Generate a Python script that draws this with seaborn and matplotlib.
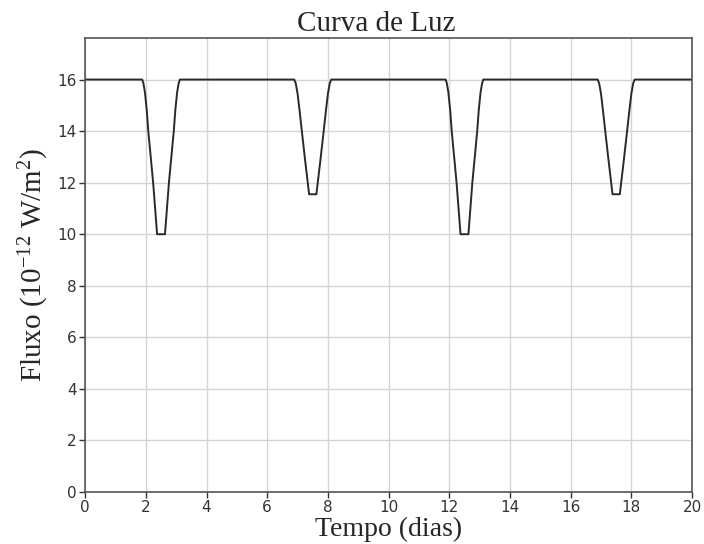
import numpy as np
import pandas as pd
import matplotlib
matplotlib.use("Agg")
import matplotlib.pyplot as plt
import seaborn as sns

# light curve (time in days, flux in 1e-12 W/m^2)
time_days = [0.0,
             1.88, 1.92, 1.97, 2.03, 2.08, 2.16, 2.24, 2.305, 2.37,
             2.63, 2.695, 2.76, 2.84, 2.92, 2.97, 3.03, 3.08, 3.12,
             6.89, 6.94, 7.00, 7.07, 7.14, 7.25, 7.38,
             7.62, 7.75, 7.86, 7.93, 8.00, 8.06, 8.11,
             11.88, 11.92, 11.97, 12.03, 12.08, 12.16, 12.24, 12.305, 12.37,
             12.63, 12.695, 12.76, 12.84, 12.92, 12.97, 13.03, 13.08, 13.12,
             16.89, 16.94, 17.00, 17.07, 17.14, 17.25, 17.38,
             17.62, 17.75, 17.86, 17.93, 18.00, 18.06, 18.11,
             20.0]
flux = [16.0,
        16.0, 15.85, 15.5, 14.8, 14.0, 13.0, 12.0, 11.0, 10.0,
        10.0, 11.0, 12.0, 13.0, 14.0, 14.8, 15.5, 15.85, 16.0,
        16.0, 15.85, 15.45, 14.75, 14.0, 12.85, 11.55,
        11.55, 12.85, 14.0, 14.75, 15.45, 15.85, 16.0,
        16.0, 15.85, 15.5, 14.8, 14.0, 13.0, 12.0, 11.0, 10.0,
        10.0, 11.0, 12.0, 13.0, 14.0, 14.8, 15.5, 15.85, 16.0,
        16.0, 15.85, 15.45, 14.75, 14.0, 12.85, 11.55,
        11.55, 12.85, 14.0, 14.75, 15.45, 15.85, 16.0,
        16.0]

x_ticks = [0, 2, 4, 6, 8, 10, 12, 14, 16, 18, 20]
y_ticks = [0, 2, 4, 6, 8, 10, 12, 14, 16]

df = pd.DataFrame({"tempo": time_days, "fluxo": flux})

sns.set_style("whitegrid")
plt.rcParams["font.family"] = ["DejaVu Sans"]
plt.rcParams["mathtext.fontset"] = "custom"
plt.rcParams["mathtext.rm"] = "Liberation Serif"
plt.rcParams["mathtext.default"] = "regular"

fig = plt.figure(figsize=(7.04, 5.44), dpi=100)
ax = fig.add_axes([0.121, 0.0956, 0.862, 0.834])

sns.lineplot(data=df, x="tempo", y="fluxo", ax=ax, color="#2a2a2a",
             linewidth=1.4, sort=False)

ax.set_xlim(0, 20)
ax.set_ylim(0, 17.6)
ax.set_xticks(x_ticks)
ax.set_yticks(y_ticks)
ax.grid(True, color="#d4d4d4", linewidth=1.0)
for s in ax.spines.values():
    s.set_color("#555555")
    s.set_linewidth(1.2)
ax.tick_params(axis="both", which="major", labelsize=11, colors="#333333",
               length=4, width=1, direction="out", bottom=True, left=True,
               pad=2)

serif = ["Liberation Serif", "DejaVu Serif"]
ax.set_title("Curva de Luz", fontsize=21, family=serif, pad=5, x=0.48)
ax.set_xlabel("Tempo (dias)", fontsize=20, family=serif, labelpad=1)
ax.set_ylabel("Fluxo (10$^{-12}$ W/m$^{2}$)", fontsize=21, family=serif, labelpad=5)

fig.savefig("out.png", dpi=100)
